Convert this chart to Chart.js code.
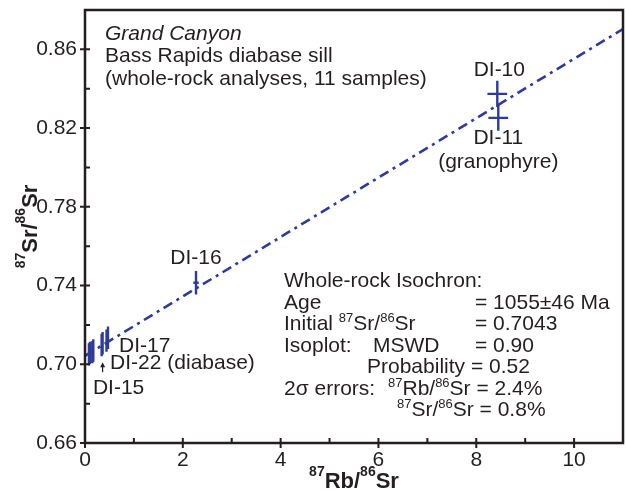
<!DOCTYPE html>
<html><head><meta charset="utf-8">
<script src="https://cdn.jsdelivr.net/npm/chart.js@4"></script>
<style>html,body{margin:0;padding:0;background:#fff;}#c{display:block;}</style>
</head><body>
<canvas id="c" width="626" height="491"></canvas>
<script>
// ---------- data ----------
const sampleIds = ['DI-10', 'DI-11', 'DI-16', 'DI-17', 'DI-22', 'DI-15', null, null, null, null, null];
const rbSr = [8.43, 8.45, 2.27, 0.47, 0.36, 0.10, 0.08, 0.15, 0.17, 0.34, 0.44];
const srSr = [0.8374, 0.8252, 0.7414, 0.7135, 0.7107, 0.7058, 0.7050, 0.7062, 0.7070, 0.7098, 0.7120];
const errPctRbSr = 2.4;   // 2 sigma, % (stated in chart)
const errPctSrSr = 0.8;   // 2 sigma, % (stated in chart)
const isoX = [0, 11];
const isoY = [0.7043, 0.8703];
const xTicks = [0, 2, 4, 6, 8, 10];
const xMinor = [1, 3, 5, 7, 9];
const yTicks = [0.66, 0.70, 0.74, 0.78, 0.82, 0.86];
const yMinor = [0.68, 0.72, 0.76, 0.80, 0.84];

// ---------- styles ----------
const FONT = '"Liberation Sans", Arial, Helvetica, sans-serif';
const INK = '#231f20';
const BLUE = '#2e3a9c';

// error-bar segments (null breaks the line)
const errH = [], errV = [];
rbSr.forEach((x, i) => {
  const y = srSr[i];
  const dx = x * errPctRbSr / 100, dy = y * errPctSrSr / 100;
  errH.push({x: x - dx, y}, {x: x + dx, y}, {x: x, y: null});
  errV.push({x, y: y - dy}, {x, y: y + dy}, {x: x, y: null});
});

function parseRich(str) {
  const segs = [];
  const re = /\^(\d+)|[^^]+/g; let m;
  while ((m = re.exec(str))) {
    if (m[1]) segs.push({t: m[1], sup: true}); else segs.push({t: m[0], sup: false});
  }
  return segs;
}
function drawRich(ctx, str, x, y, o) {
  o = Object.assign({size: 21, supSize: 13, rise: 8, bold: false, italic: false, align: 'left'}, o || {});
  const segs = parseRich(str);
  const fontFor = s => (o.italic ? 'italic ' : '') + (o.bold ? 'bold ' : '') + (s.sup ? o.supSize : o.size) + 'px ' + FONT;
  let w = 0;
  segs.forEach(s => { ctx.font = fontFor(s); w += ctx.measureText(s.t).width; });
  let cx = o.align === 'center' ? x - w / 2 : o.align === 'right' ? x - w : x;
  ctx.textAlign = 'left'; ctx.textBaseline = 'alphabetic';
  segs.forEach(s => {
    ctx.font = fontFor(s);
    ctx.fillText(s.t, cx, s.sup ? y - o.rise : y);
    cx += ctx.measureText(s.t).width;
  });
}

const decorPlugin = {
  id: 'decor',
  afterDraw(chart) {
    const {ctx, chartArea: a, scales: {x: sx, y: sy}} = chart;
    ctx.save();
    // frame
    ctx.strokeStyle = INK; ctx.lineWidth = 2.5;
    ctx.strokeRect(a.left, a.top, a.right - a.left, a.bottom - a.top);
    // ticks
    ctx.lineWidth = 2;
    ctx.beginPath();
    xTicks.forEach(v => { const p = sx.getPixelForValue(v); ctx.moveTo(p, a.bottom - 5); ctx.lineTo(p, a.bottom + 5); });
    xMinor.forEach(v => { const p = sx.getPixelForValue(v); ctx.moveTo(p, a.bottom - 5); ctx.lineTo(p, a.bottom); });
    yTicks.forEach(v => { const p = sy.getPixelForValue(v); ctx.moveTo(a.left - 5, p); ctx.lineTo(a.left + 5, p); });
    yMinor.forEach(v => { const p = sy.getPixelForValue(v); ctx.moveTo(a.left, p); ctx.lineTo(a.left + 5, p); });
    ctx.stroke();

    ctx.fillStyle = INK;
    // axis titles
    drawRich(ctx, '^87Rb/^86Sr', (a.left + a.right) / 2, a.bottom + 45, {size: 22, supSize: 14, rise: 12, bold: true, align: 'center'});
    ctx.save();
    ctx.translate(37, (a.top + a.bottom) / 2);
    ctx.rotate(-Math.PI / 2);
    drawRich(ctx, '^87Sr/^86Sr', 0, 0, {size: 22, supSize: 14, rise: 12, bold: true, align: 'center'});
    ctx.restore();

    // title block
    const tl = a.left + 20;
    drawRich(ctx, 'Grand Canyon', tl, a.top + 29.5, {italic: true});
    drawRich(ctx, 'Bass Rapids diabase sill', tl, a.top + 52);
    drawRich(ctx, '(whole-rock analyses, 11 samples)', tl, a.top + 75);

    // sample labels
    const P = i => ({x: sx.getPixelForValue(rbSr[i]), y: sy.getPixelForValue(srSr[i])});
    let p = P(0); drawRich(ctx, sampleIds[0], p.x + 2, p.y - 18, {align: 'center'});
    p = P(1); drawRich(ctx, sampleIds[1], p.x, p.y + 26, {align: 'center'});
    drawRich(ctx, '(granophyre)', p.x, p.y + 50, {align: 'center'});
    p = P(2); drawRich(ctx, sampleIds[2], p.x, p.y - 19, {align: 'center'});
    p = P(3); drawRich(ctx, sampleIds[3], p.x + 11, p.y + 14);
    p = P(4); drawRich(ctx, sampleIds[4] + ' (diabase)', p.x + 7.5, p.y + 25.5);
    // small arrow pointing up to DI-22
    ctx.strokeStyle = INK; ctx.lineWidth = 1.2;
    ctx.beginPath(); ctx.moveTo(p.x, p.y + 29); ctx.lineTo(p.x, p.y + 23); ctx.stroke();
    ctx.beginPath(); ctx.moveTo(p.x - 2.5, p.y + 24); ctx.lineTo(p.x, p.y + 19); ctx.lineTo(p.x + 2.5, p.y + 24); ctx.closePath(); ctx.fill();
    p = P(5); drawRich(ctx, sampleIds[5], p.x + 3, p.y + 41);

    // isochron results box
    const L = a.left + 199, B = a.top + 277, LH = 21.5, E1 = L + 191;
    drawRich(ctx, 'Whole-rock Isochron:', L, B);
    drawRich(ctx, 'Age', L, B + LH);
    drawRich(ctx, '= 1055\u00b146 Ma', E1, B + LH);
    drawRich(ctx, 'Initial ^87Sr/^86Sr', L, B + 2 * LH);
    drawRich(ctx, '= 0.7043', E1, B + 2 * LH);
    drawRich(ctx, 'Isoplot:', L, B + 3 * LH);
    drawRich(ctx, 'MSWD', L + 89, B + 3 * LH);
    drawRich(ctx, '= 0.90', E1, B + 3 * LH);
    drawRich(ctx, 'Probability = 0.52', L + 83, B + 4 * LH);
    drawRich(ctx, '2\u03c3 errors:', L, B + 5 * LH);
    drawRich(ctx, '^87Rb/^86Sr = 2.4%', L + 104, B + 5 * LH);
    drawRich(ctx, '^87Sr/^86Sr = 0.8%', L + 113, B + 6 * LH);
    ctx.restore();
  }
};

new Chart(document.getElementById('c'), {
  type: 'scatter',
  data: {
    datasets: [
      {type: 'line', label: 'isochron', data: isoX.map((x, i) => ({x, y: isoY[i]})),
       borderColor: BLUE, borderWidth: 2.6, borderDash: [10, 5, 3, 5], pointRadius: 0, fill: false},
      {type: 'line', label: 'errH', data: errH, borderColor: BLUE, borderWidth: 2.4, pointRadius: 0, spanGaps: false, fill: false},
      {type: 'line', label: 'errV', data: errV, borderColor: BLUE, borderWidth: 2.4, pointRadius: 0, spanGaps: false, fill: false}
    ]
  },
  options: {
    responsive: false, animation: false, devicePixelRatio: 1,
    layout: {padding: {top: 10, right: 3, left: 0, bottom: 0}},
    plugins: {legend: {display: false}, tooltip: {enabled: false}},
    scales: {
      x: {type: 'linear', min: 0, max: 11,
          afterBuildTicks: s => { s.ticks = xTicks.map(v => ({value: v})); },
          afterFit: s => { s.height = 48; s.paddingLeft = 0; s.paddingRight = 0; },
          grid: {display: false, drawTicks: false, tickLength: 0}, border: {display: false},
          ticks: {font: {family: FONT, size: 21}, color: INK, padding: 5, maxRotation: 0, autoSkip: false, callback: v => String(v)}},
      y: {type: 'linear', min: 0.66, max: 0.88,
          afterBuildTicks: s => { s.ticks = yTicks.map(v => ({value: v})); },
          afterFit: s => { s.width = 85; s.paddingTop = 0; s.paddingBottom = 0; },
          grid: {display: false, drawTicks: false, tickLength: 0}, border: {display: false},
          ticks: {font: {family: FONT, size: 21}, color: INK, padding: 8, autoSkip: false, callback: v => v.toFixed(2)}}
    }
  },
  plugins: [decorPlugin]
});
</script>
</body></html>
